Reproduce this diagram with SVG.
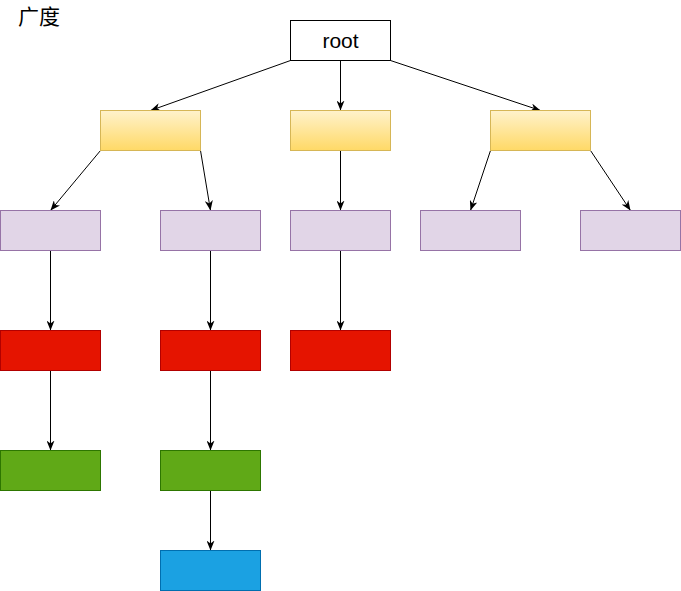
<svg xmlns="http://www.w3.org/2000/svg" width="681" height="591" viewBox="0 0 681 591">
<style>
.root{fill:#ffffff;stroke:#000000;stroke-width:1}
.y{fill:url(#yg);stroke:#d6b656;stroke-width:1}
.p{fill:#e1d5e7;stroke:#9673a6;stroke-width:1}
.r{fill:#e51400;stroke:#b20000;stroke-width:1}
.g{fill:#60a917;stroke:#2d7600;stroke-width:1}
.b{fill:#1ba1e2;stroke:#006eaf;stroke-width:1}
.e{fill:none;stroke:#000000;stroke-width:1;marker-end:url(#arr)}
text{font-family:"Liberation Sans","Noto Sans CJK SC",sans-serif;fill:#000000}
</style>
<defs>
<linearGradient id="yg" x1="0" y1="0" x2="0" y2="1">
<stop offset="0" stop-color="#fff2cc"/>
<stop offset="1" stop-color="#ffd966"/>
</linearGradient>
<marker id="arr" viewBox="0 0 10 8" refX="10" refY="4" markerWidth="10" markerHeight="8" markerUnits="userSpaceOnUse" orient="auto">
<path d="M0,0 L10,4 L0,8 L3,4 Z" fill="#000000"/>
</marker>
</defs>
<g id="label-breadth"><text x="18" y="24" font-size="21">广度</text></g>
<g id="connectors">
<path class="e" d="M290.5,60.5 L150.5,110.5"/>
<path class="e" d="M340.5,60.5 L340.5,110.5"/>
<path class="e" d="M390.5,60.5 L540.5,110.5"/>
<path class="e" d="M100.5,150.5 L50.5,210.5"/>
<path class="e" d="M200.5,150.5 L210.5,210.5"/>
<path class="e" d="M340.5,150.5 L340.5,210.5"/>
<path class="e" d="M490.5,150.5 L470.5,210.5"/>
<path class="e" d="M590.5,150.5 L630.5,210.5"/>
<path class="e" d="M50.5,250.5 L50.5,330.5"/>
<path class="e" d="M210.5,250.5 L210.5,330.5"/>
<path class="e" d="M340.5,250.5 L340.5,330.5"/>
<path class="e" d="M50.5,370.5 L50.5,450.5"/>
<path class="e" d="M210.5,370.5 L210.5,450.5"/>
<path class="e" d="M210.5,490.5 L210.5,550.5"/>
</g>
<g id="root"><rect class="root" x="290.5" y="20.5" width="100" height="40"/><text x="340.5" y="47.5" font-size="21" text-anchor="middle">root</text></g>
<g id="y1"><rect class="y" x="100.5" y="110.5" width="100" height="40"/></g>
<g id="y2"><rect class="y" x="290.5" y="110.5" width="100" height="40"/></g>
<g id="y3"><rect class="y" x="490.5" y="110.5" width="100" height="40"/></g>
<g id="p1"><rect class="p" x="0.5" y="210.5" width="100" height="40"/></g>
<g id="p2"><rect class="p" x="160.5" y="210.5" width="100" height="40"/></g>
<g id="p3"><rect class="p" x="290.5" y="210.5" width="100" height="40"/></g>
<g id="p4"><rect class="p" x="420.5" y="210.5" width="100" height="40"/></g>
<g id="p5"><rect class="p" x="580.5" y="210.5" width="100" height="40"/></g>
<g id="r1"><rect class="r" x="0.5" y="330.5" width="100" height="40"/></g>
<g id="r2"><rect class="r" x="160.5" y="330.5" width="100" height="40"/></g>
<g id="r3"><rect class="r" x="290.5" y="330.5" width="100" height="40"/></g>
<g id="g1"><rect class="g" x="0.5" y="450.5" width="100" height="40"/></g>
<g id="g2"><rect class="g" x="160.5" y="450.5" width="100" height="40"/></g>
<g id="b1"><rect class="b" x="160.5" y="550.5" width="100" height="40"/></g>
</svg>
